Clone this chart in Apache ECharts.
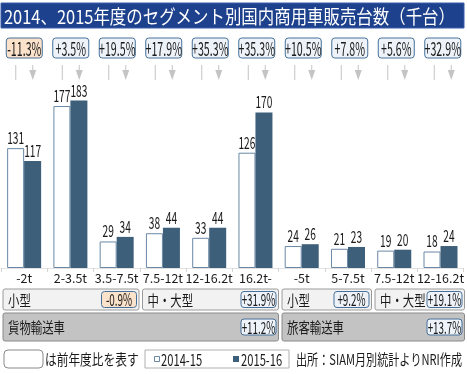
<!DOCTYPE html>
<html><head><meta charset="utf-8">
<script src="https://cdn.jsdelivr.net/npm/echarts@6/dist/echarts.min.js"></script>
<style>html,body{margin:0;padding:0;background:#fff}#c{width:467px;height:374px}</style>
</head><body><div id="c"></div>
<script>
const titleText = '2014、2015年度のセグメント別国内商用車販売台数（千台）';
const categories = ['-2t','2-3.5t','3.5-7.5t','7.5-12t','12-16.2t','16.2t-','-5t','5-7.5t','7.5-12t','12-16.2t'];
const seriesNames = ['2014-15','2015-16'];
const v2014 = [131,177,29,38,33,126,24,21,19,18];
const v2015 = [117,183,34,44,44,170,26,23,20,24];
const yoy = ['-11.3%','+3.5%','+19.5%','+17.9%','+35.3%','+35.3%','+10.5%','+7.8%','+5.6%','+32.9%'];
const segNames = ['小型','中・大型','小型','中・大型'];
const segPcts = ['-0.9%','+31.9%','+9.2%','+19.1%'];
const segStart = [0,3,6,8];
const segEnd = [2,5,7,9];
const typeNames = ['貨物輸送車','旅客輸送車'];
const typePcts = ['+11.2%','+13.7%'];
const typeStart = [0,6];
const typeEnd = [5,9];
const noteText = 'は前年度比を表す';
const sourceText = '出所：SIAM月別統計よりNRI作成';

const FONT = '"Noto Sans CJK JP", "Noto Sans", sans-serif';
const BARW = 17;
const C_DARK = '#3d5f7a', C_EDGE = '#6a88a6';
const C_PBOX = '#46709a', C_PFILL = '#eef3f9', C_NEG = '#fbe2cb';

function sText(x, y, text, size, sx, align, vAlign, color) {
  return {type:'text', x:x, y:y, scaleX:sx, scaleY:1,
    style:{text:text, font:size+'px '+FONT, fill:color||'#1a1a1a', align:align||'left', verticalAlign:vAlign||'middle'}};
}

function pctBox(cx, cy, w, h, txt, fs, sx) {
  const neg = txt.charAt(0) === '-';
  return [
    {type:'rect', shape:{x:cx-w/2, y:cy-h/2, width:w, height:h, r:3},
     style:{fill: neg ? C_NEG : C_PFILL, stroke:C_PBOX, lineWidth:1}},
    sText(cx, cy+0.5, txt, fs, sx, 'center', 'middle')
  ];
}

function renderTop(params, api) {
  const i = params.dataIndex;
  const cs = params.coordSys;
  const x = api.coord([i, 0])[0];
  const y0 = cs.y;
  const xl = x - BARW/2, xr = x + BARW/2;
  const g = '#c4c4c4';
  return {type:'group', children: [
    ...pctBox(x, y0 + 11, 36, 20, yoy[i], 19, 0.56),
    {type:'line', shape:{x1:xl, y1:y0+28, x2:xl, y2:y0+43}, style:{stroke:g, lineWidth:1}},
    {type:'line', shape:{x1:xr, y1:y0+28, x2:xr, y2:y0+34}, style:{stroke:g, lineWidth:1}},
    {type:'polygon', shape:{points:[[xr-3.5, y0+33],[xr+3.5, y0+33],[xr, y0+43]]}, style:{fill:g}}
  ]};
}

function renderValues(params, api) {
  const i = params.dataIndex;
  const p1 = api.coord([i, api.value(1)]);
  const p2 = api.coord([i, api.value(2)]);
  return {type:'group', children: [
    sText(p1[0] - BARW/2, p1[1] - 2, String(api.value(1)), 17, 0.6, 'center', 'bottom'),
    sText(p2[0] + BARW/2, p2[1] - 2, String(api.value(2)), 17, 0.6, 'center', 'bottom')
  ]};
}

function makeGroupRender(starts, ends, names, pcts, rowTop, rowH, fill, stroke) {
  return function(params, api) {
    const i = params.dataIndex;
    const cs = params.coordSys;
    const bw = api.size([1, 0])[0];
    const x1 = api.coord([starts[i], 0])[0] - bw/2 + 2;
    const x2 = api.coord([ends[i], 0])[0] + bw/2 - 1.5;
    const y = cs.y + rowTop;
    return {type:'group', children: [
      {type:'rect', shape:{x:x1, y:y, width:x2-x1, height:rowH, r:2}, style:{fill:fill, stroke:stroke, lineWidth:1}},
      sText(x1 + 5, y + rowH/2 + 0.5, names[i], 15, 0.76, 'left', 'middle'),
      ...pctBox(x2 - 20, y + rowH/2, 35, 16, pcts[i], 17, 0.58)
    ]};
  };
}

const chart = echarts.init(document.getElementById('c'), null, {renderer:'canvas'});
const catIdx = categories.map((c, i) => i);
const hiddenX = (gi) => ({type:'category', gridIndex:gi, data:catIdx, show:false, boundaryGap:true});
const hiddenY = (gi) => ({type:'value', gridIndex:gi, min:0, max:1, show:false});

chart.setOption({
  animation: false,
  textStyle: {fontFamily: FONT},
  graphic: [
    {type:'rect', shape:{x:1, y:3, width:463, height:25}, style:{fill:'#1d418c', stroke:'#3a5fa8', lineWidth:1}},
    sText(4, 16.5, titleText, 19, 0.865, 'left', 'middle', '#fff'),
    {type:'rect', shape:{x:4, y:350, width:39, height:18, r:4}, style:{fill:'#fff', stroke:'#8a8a8a', lineWidth:1}},
    sText(45, 359.5, noteText, 15, 0.78, 'left', 'middle'),
    {type:'rect', shape:{x:145, y:350, width:144, height:18}, style:{fill:'#fff', stroke:'#b0b0b0', lineWidth:1}},
    {type:'rect', shape:{x:154.5, y:356.5, width:5, height:5}, style:{fill:'#fff', stroke:C_EDGE, lineWidth:1}},
    sText(161, 359.5, seriesNames[0], 16, 0.7, 'left', 'middle'),
    {type:'rect', shape:{x:233, y:356, width:6, height:6}, style:{fill:C_DARK}},
    sText(241, 359.5, seriesNames[1], 16, 0.7, 'left', 'middle'),
    sText(296, 359.5, sourceText, 15, 0.74, 'left', 'middle')
  ],
  grid: [
    {left:1, right:1, top:85, bottom:106},
    {left:1, right:1, top:37, height:43},
    {left:1, right:1, top:289, height:80}
  ],
  xAxis: [
    {type:'category', gridIndex:0, data:catIdx,
     axisLine:{show:true, lineStyle:{color:'#e2e2e2'}},
     axisTick:{show:true, length:4, lineStyle:{color:'#d4d4d4'}},
     axisLabel:{formatter:(v, i) => categories[i], fontSize:12.5, color:'#1a1a1a', margin:4, fontFamily:FONT, interval:0}},
    hiddenX(1), hiddenX(2)
  ],
  yAxis: [
    {type:'value', gridIndex:0, min:0, max:200, show:false},
    hiddenY(1), hiddenY(2)
  ],
  series: [
    {name:seriesNames[0], type:'bar', xAxisIndex:0, yAxisIndex:0, data:v2014, barWidth:BARW, barGap:'0%',
     itemStyle:{color:'#fff', borderColor:C_EDGE, borderWidth:1}},
    {name:seriesNames[1], type:'bar', xAxisIndex:0, yAxisIndex:0, data:v2015, barWidth:BARW, barGap:'0%',
     itemStyle:{color:C_DARK}},
    {type:'custom', xAxisIndex:0, yAxisIndex:0, data:catIdx.map(i => [i, v2014[i], v2015[i]]),
     renderItem:renderValues, clip:false, silent:true, z:5},
    {type:'custom', xAxisIndex:1, yAxisIndex:1, data:yoy.map((p, i) => [i, 0.5]), renderItem:renderTop, clip:false, silent:true},
    {type:'custom', xAxisIndex:2, yAxisIndex:2, data:segStart.map((s, i) => [s, 0.5]),
     renderItem:makeGroupRender(segStart, segEnd, segNames, segPcts, 0, 21, '#f2f2f2', '#9a9a9a'), clip:false, silent:true},
    {type:'custom', xAxisIndex:2, yAxisIndex:2, data:typeStart.map((s, i) => [s, 0.5]),
     renderItem:makeGroupRender(typeStart, typeEnd, typeNames, typePcts, 24, 28, '#c3c3c3', '#8a8a8a'), clip:false, silent:true}
  ]
});
</script></body></html>
